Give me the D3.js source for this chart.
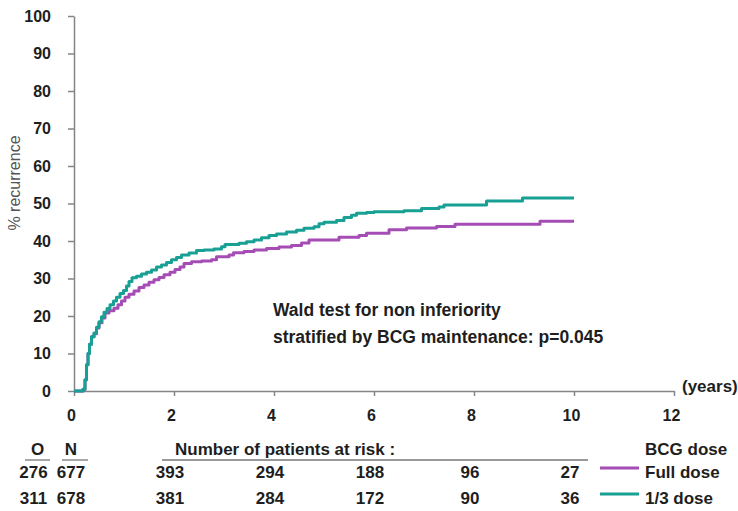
<!DOCTYPE html>
<html><head><meta charset="utf-8">
<script src="https://cdn.jsdelivr.net/npm/d3@7"></script>
<style>
body{margin:0;background:#fff;}
svg{display:block;font-family:"Liberation Sans",Arial,sans-serif;}
</style></head>
<body>
<svg id="chart" width="738" height="511"></svg>
<script>
// ---- data ----
const xTicks = [0, 2, 4, 6, 8, 10, 12];
const yTicks = [0, 10, 20, 30, 40, 50, 60, 70, 80, 90, 100];
const seriesNames = ["Full dose", "1/3 dose"];
const seriesColors = ["#a54db5", "#17a093"];
const observed = [276, 311];
const numbers = [677, 678];
const riskTimes = [2, 4, 6, 8, 10];
const riskFull = [393, 294, 188, 96, 27];
const riskThird = [381, 284, 172, 90, 36];
// Kaplan-Meier style step points [years, % recurrence]
const fullDose = [
  [0,0],[0.18,0.5],[0.22,3],[0.25,7],[0.28,10],[0.31,12.5],[0.35,14.5],[0.40,15.3],[0.45,16.8],
  [0.50,18.2],[0.56,19.5],[0.62,20.8],[0.70,21.4],[0.80,22.1],[0.88,23],[0.95,24],[1.02,25],
  [1.10,25.8],[1.20,26.7],[1.30,27.6],[1.40,28.3],[1.50,29.0],[1.60,29.7],[1.70,30.3],[1.80,31.0],
  [1.92,31.7],[2.02,32.4],[2.12,33.1],[2.20,34.0],[2.35,34.5],[2.55,34.7],[2.75,35.0],[2.85,35.8],
  [3.10,36.3],[3.19,36.9],[3.40,37.2],[3.60,37.6],[3.85,38.0],[4.10,38.4],[4.35,38.8],[4.55,39.5],
  [4.70,40.3],[5.30,41.0],[5.70,41.5],[5.85,42.1],[6.30,43.0],[6.65,43.5],[7.25,43.9],[7.62,44.5],
  [9.32,45.3],[10.0,45.3]
];
const thirdDose = [
  [0,0],[0.18,0.5],[0.22,3],[0.25,7],[0.28,10],[0.31,12.5],[0.35,14.5],[0.40,15.5],[0.45,17],
  [0.50,18.5],[0.55,19.8],[0.60,21],[0.66,22],[0.72,23],[0.79,24],[0.85,25],[0.92,26],[0.99,26.8],
  [1.05,28],[1.10,29.2],[1.16,30.2],[1.25,30.6],[1.35,31.2],[1.45,31.7],[1.55,32.3],[1.65,33.1],
  [1.75,33.6],[1.85,34.3],[1.95,35.0],[2.05,35.6],[2.15,36.3],[2.30,36.8],[2.45,37.5],[2.60,37.6],
  [2.80,37.9],[2.95,38.5],[3.02,39.1],[3.30,39.4],[3.45,39.8],[3.60,40.3],[3.75,40.9],[3.90,41.5],
  [4.05,41.9],[4.25,42.4],[4.45,42.9],[4.60,43.4],[4.80,43.8],[4.90,44.6],[5.00,45.0],[5.25,45.5],
  [5.40,46.3],[5.55,46.9],[5.65,47.4],[5.85,47.6],[6.00,47.8],[6.60,48.1],[6.95,48.7],[7.30,49.1],
  [7.40,49.6],[8.25,50.7],[8.97,51.5],[10.0,51.5]
];

// ---- chart ----
const svg = d3.select("#chart");
const x = d3.scaleLinear().domain([0, 12]).range([74, 674]);
const y = d3.scaleLinear().domain([0, 100]).range([391, 16]);
const axisColor = "#858585";
const textColor = "#1e1e1e";
const fontStack = "Liberation Sans, Arial, sans-serif";

const gx = svg.append("g").attr("transform", `translate(0,${y(0)})`)
  .call(d3.axisBottom(x).tickValues(xTicks).tickSize(5).tickSizeOuter(0).tickPadding(14));
const gy = svg.append("g").attr("transform", `translate(${x(0)},0)`)
  .call(d3.axisLeft(y).tickValues(yTicks).tickSize(6).tickSizeOuter(0).tickPadding(17));
[gx, gy].forEach(g => {
  g.attr("font-family", fontStack).attr("font-size", 16);
  g.select(".domain").attr("stroke", axisColor).attr("stroke-width", 1.5);
  g.selectAll(".tick line").attr("stroke", axisColor).attr("stroke-width", 1.5);
  g.selectAll(".tick text").attr("fill", textColor).attr("font-weight", "bold");
});
gx.selectAll(".tick text").attr("dx", -3);

svg.append("text").attr("x", 682).attr("y", 392).attr("font-size", 17).attr("font-weight", "bold")
  .attr("fill", textColor).text("(years)");

svg.append("text").attr("transform", `translate(20,${183}) rotate(-90)`)
  .attr("text-anchor", "middle").attr("font-size", 16).attr("fill", "#555").text("% recurrence");

const line = d3.line().x(d => x(d[0])).y(d => y(d[1])).curve(d3.curveStepAfter);
[fullDose, thirdDose].forEach((s, i) => {
  svg.append("path").datum(s).attr("d", line).attr("fill", "none")
    .attr("stroke", seriesColors[i]).attr("stroke-width", 3).attr("stroke-linejoin", "round");
});

// annotation
const ann = svg.append("text").attr("font-size", 17.5).attr("font-weight", "bold").attr("fill", textColor);
ann.append("tspan").attr("x", 273).attr("y", 316).text("Wald test for non inferiority");
ann.append("tspan").attr("x", 273).attr("y", 343).text("stratified by BCG maintenance: p=0.045");

// risk table
const tbl = svg.append("g").attr("font-size", 17).attr("font-weight", "bold").attr("fill", textColor);
const headY = 455, rowY = [478, 504], lineY = 460;
tbl.append("text").attr("x", 37.5).attr("y", headY).attr("text-anchor", "middle").text("O");
tbl.append("text").attr("x", 71).attr("y", headY).attr("text-anchor", "middle").text("N");
tbl.append("text").attr("x", 175).attr("y", headY).text("Number of patients at risk :");
[[25, 50], [62, 88], [162, 588]].forEach(([a, b]) => {
  svg.append("line").attr("x1", a).attr("x2", b).attr("y1", lineY).attr("y2", lineY)
    .attr("stroke", "#777").attr("stroke-width", 1.3);
});
[riskFull, riskThird].forEach((r, i) => {
  tbl.append("text").attr("x", 33.5).attr("y", rowY[i]).attr("text-anchor", "middle").text(observed[i]);
  tbl.append("text").attr("x", 71).attr("y", rowY[i]).attr("text-anchor", "middle").text(numbers[i]);
  r.forEach((v, j) => {
    tbl.append("text").attr("x", x(riskTimes[j]) - 4).attr("y", rowY[i]).attr("text-anchor", "middle").text(v);
  });
});

// legend
tbl.append("text").attr("x", 645).attr("y", headY).text("BCG dose");
seriesNames.forEach((n, i) => {
  svg.append("line").attr("x1", 600).attr("x2", 639).attr("y1", rowY[i] - 10).attr("y2", rowY[i] - 10)
    .attr("stroke", seriesColors[i]).attr("stroke-width", 3);
  tbl.append("text").attr("x", 645).attr("y", rowY[i]).text(n);
});
</script>
</body></html>
